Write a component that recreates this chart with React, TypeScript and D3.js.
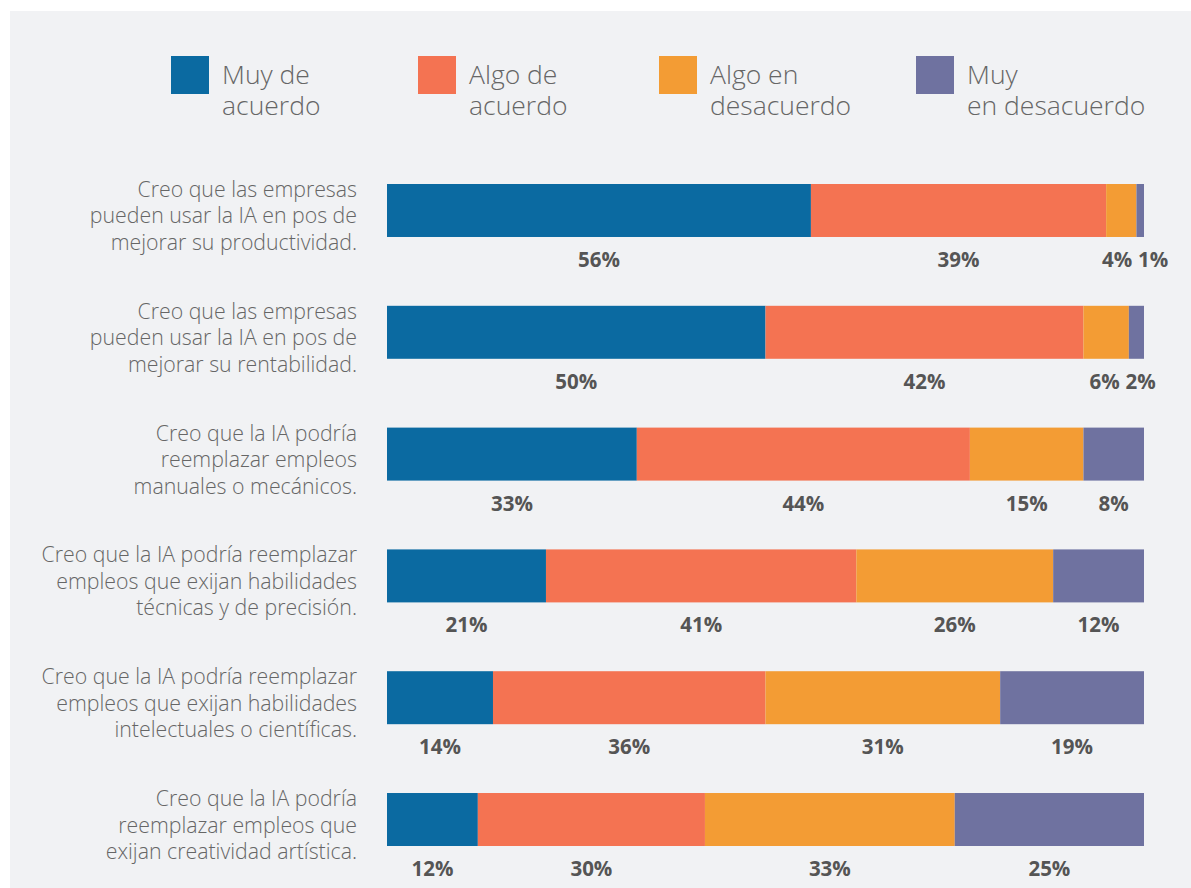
import { useEffect, useRef } from 'react';
import * as d3 from 'd3';

const categories = [
  ['Creo que las empresas', 'pueden usar la IA en pos de', 'mejorar su productividad.'],
  ['Creo que las empresas', 'pueden usar la IA en pos de', 'mejorar su rentabilidad.'],
  ['Creo que la IA podría', 'reemplazar empleos', 'manuales o mecánicos.'],
  ['Creo que la IA podría reemplazar', 'empleos que exijan habilidades', 'técnicas y de precisión.'],
  ['Creo que la IA podría reemplazar', 'empleos que exijan habilidades', 'intelectuales o científicas.'],
  ['Creo que la IA podría', 'reemplazar empleos que', 'exijan creatividad artística.'],
];

const seriesNames = [
  ['Muy de', 'acuerdo'],
  ['Algo de', 'acuerdo'],
  ['Algo en', 'desacuerdo'],
  ['Muy', 'en desacuerdo'],
];

const muyDeAcuerdo = [56, 50, 33, 21, 14, 12];
const algoDeAcuerdo = [39, 42, 44, 41, 36, 30];
const algoEnDesacuerdo = [4, 6, 15, 26, 31, 33];
const muyEnDesacuerdo = [1, 2, 8, 12, 19, 25];

const colors = ['#0b6aa1', '#f47352', '#f39c34', '#6f72a0'];

const W = 1191;
const H = 888;

const App = () => {
  const svgRef = useRef<SVGSVGElement>(null);

  useEffect(() => {
    const svg = d3.select(svgRef.current);
    svg.selectAll('*').remove();

    const font = '"Open Sans", sans-serif';

    // fond gris
    svg.append('rect')
      .attr('x', 10).attr('y', 11)
      .attr('width', W - 10).attr('height', H - 11)
      .attr('fill', '#f1f2f4');

    const series = [muyDeAcuerdo, algoDeAcuerdo, algoEnDesacuerdo, muyEnDesacuerdo];
    const rows = categories.map((_, i) => series.map(s => s[i]));

    const x = d3.scaleLinear().domain([0, 100]).range([387, 1144]);
    const y = d3.scaleBand<number>()
      .domain(d3.range(categories.length))
      .range([184, 846])
      .paddingInner(0.565)
      .paddingOuter(0);

    // légende
    const legendX = [171, 418, 659, 916];
    const legend = svg.append('g').selectAll('g')
      .data(seriesNames)
      .enter().append('g')
      .attr('transform', (_, i) => `translate(${legendX[i]}, 56)`);

    legend.append('rect')
      .attr('width', 38).attr('height', 38)
      .attr('fill', (_, i) => colors[i]);

    legend.each(function (d) {
      const g = d3.select(this);
      g.append('text')
        .attr('x', 51)
        .attr('y', 28)
        .attr('font-family', font)
        .attr('font-weight', 300)
        .attr('font-size', '26.5px')
        .attr('fill', '#666')
        .selectAll('tspan')
        .data(d)
        .enter().append('tspan')
        .attr('x', 51)
        .attr('dy', (_, j) => (j === 0 ? 0 : 31))
        .text(line => line);
    });

    // libellés des catégories
    const bw = y.bandwidth();
    categories.forEach((lines, i) => {
      const cy = (y(i) as number) + bw / 2;
      svg.append('text')
        .attr('y', cy + 13 - 26.5)
        .attr('text-anchor', 'end')
        .attr('font-family', font)
        .attr('font-weight', 300)
        .attr('font-size', '21.3px')
        .attr('fill', '#666')
        .selectAll('tspan')
        .data(lines)
        .enter().append('tspan')
        .attr('x', 357)
        .attr('dy', (_, j) => (j === 0 ? 0 : 26.5))
        .text(line => line);
    });

    // barres empilées
    rows.forEach((vals, i) => {
      const top = y(i) as number;
      const starts = d3.cumsum([0, ...vals.slice(0, -1)]);
      const g = svg.append('g');
      g.selectAll('rect')
        .data(vals)
        .enter().append('rect')
        .attr('x', (_, k) => x(starts[k]))
        .attr('y', top)
        .attr('width', (v, k) => x(starts[k] + v) - x(starts[k]))
        .attr('height', bw)
        .attr('fill', (_, k) => colors[k]);

      // étiquettes, décalées si elles se chevauchent
      const centers = vals.map((v, k) => x(starts[k] + v / 2));
      const widths = vals.map(v => `${v}%`.length * 13);
      for (let k = 1; k < centers.length; k++) {
        const minGap = widths[k - 1] / 2 + widths[k] / 2 + 10;
        if (centers[k] - centers[k - 1] < minGap) {
          const shift = minGap - (centers[k] - centers[k - 1]);
          centers[k - 1] -= shift * 0.25;
          centers[k] += shift * 0.75;
        }
      }
      g.selectAll('text')
        .data(vals)
        .enter().append('text')
        .attr('x', (_, k) => centers[k])
        .attr('y', top + bw + 30)
        .attr('text-anchor', 'middle')
        .attr('font-family', font)
        .attr('font-weight', 700)
        .attr('font-size', '20.5px')
        .attr('fill', '#555')
        .text(v => `${v}%`);
    });
  }, []);

  return (
    <svg
      ref={svgRef}
      width={W}
      height={H}
      style={{ position: 'absolute', left: 0, top: 0, background: '#fff' }}
    />
  );
};

export default App;
